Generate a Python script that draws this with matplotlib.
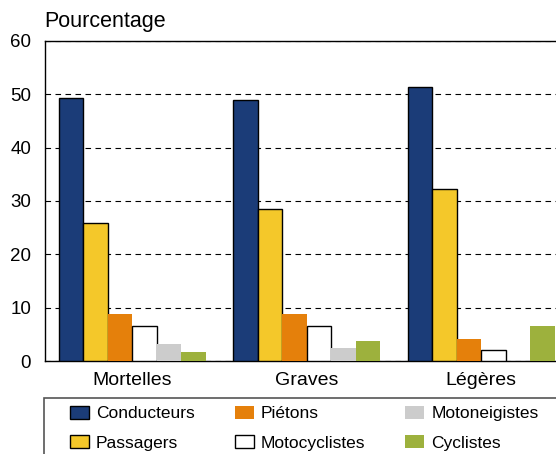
import matplotlib.pyplot as plt
from matplotlib.patches import Rectangle
import numpy as np

plt.rcParams['font.family'] = ['Liberation Sans', 'DejaVu Sans']

# data
categories = ['Mortelles', 'Graves', 'Légères']
series = ['Conducteurs', 'Passagers', 'Piétons', 'Motocyclistes', 'Motoneigistes', 'Cyclistes']
conducteurs = [49.3, 48.9, 51.4]
passagers = [25.9, 28.5, 32.2]
pietons = [8.8, 8.8, 4.1]
motocyclistes = [6.6, 6.6, 2.1]
motoneigistes = [3.2, 2.4, 0.0]
cyclistes = [1.7, 3.75, 6.6]

values = [conducteurs, passagers, pietons, motocyclistes, motoneigistes, cyclistes]
colors = ['#1b3c78', '#f4c82a', '#e5800b', '#ffffff', '#cccccc', '#9db13d']
edges = ['black', 'black', 'none', 'black', 'none', 'none']

fig = plt.figure(figsize=(5.56, 4.54), dpi=100)
ax = fig.add_axes([45/556, 1-361/454, 523.5/556, 320/454])

x = np.arange(len(categories))
w = 0.14
for i, (name, vals) in enumerate(zip(series, values)):
    ax.bar(x + (i - 2.5) * w, vals, w, color=colors[i], edgecolor=edges[i],
           linewidth=1.0, label=name, zorder=3)

ax.set_xlim(-0.5, 2.5)
ax.set_ylim(0, 60)
ax.set_yticks(range(0, 61, 10))
ax.set_xticks(x)
ax.set_xticklabels(categories, fontsize=14)
ax.tick_params(axis='y', labelsize=13.5, length=0, pad=10)
ax.tick_params(axis='x', length=0, pad=8)
ax.yaxis.grid(True, linestyle=(0, (5, 4)), color='black', linewidth=0.8, zorder=0)
ax.spines['right'].set_visible(False)
for s in ['left', 'bottom', 'top']:
    ax.spines[s].set_linewidth(1.0)

fig.text(44/556, 1-21/454, 'Pourcentage', fontsize=15.5, va='center', ha='left')

# legend box (runs off the right and bottom edges like the original)
fig.patches.append(Rectangle((44/556, -0.05), 0.98, (0.05 + 1-398/454),
                             transform=fig.transFigure, facecolor='none',
                             edgecolor='#555555', linewidth=1.2))
h, l = ax.get_legend_handles_labels()
leg = fig.legend(h, l, ncol=3, loc='upper left',
                 bbox_to_anchor=(70/556, 1-406/454),
                 fontsize=12.5, frameon=False,
                 borderaxespad=0, borderpad=0, handlelength=1.1, handleheight=0.75,
                 handletextpad=0.4, labelspacing=0.8, columnspacing=2.3)

fig.savefig('out.png', dpi=100)
